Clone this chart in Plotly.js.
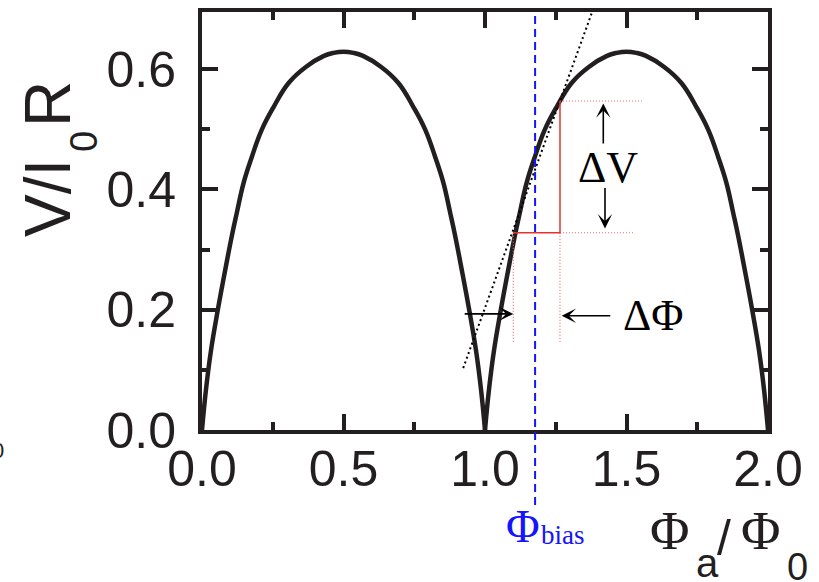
<!DOCTYPE html>
<html>
<head>
<meta charset="utf-8">
<script src="https://cdn.plot.ly/plotly-3.0.1.min.js"></script>
<style>
  html, body { margin: 0; padding: 0; background: #fff; }
  #chart { width: 819px; height: 582px; }
</style>
</head>
<body>
<div id="chart"></div>
<script>
// SQUID voltage vs. applied flux, two periods
const phiHump1 = [0, 0.014, 0.032, 0.056, 0.082, 0.106, 0.123, 0.147, 0.176, 0.211, 0.253, 0.306, 0.368, 0.431, 0.465, 0.5,
                  0.535, 0.569, 0.632, 0.694, 0.747, 0.789, 0.824, 0.853, 0.877, 0.894, 0.918, 0.944, 0.968, 0.986, 1.0];
const vHump1   = [0, 0.067, 0.133, 0.200, 0.266, 0.324, 0.361, 0.411, 0.454, 0.499, 0.537, 0.577, 0.604, 0.622, 0.627, 0.629,
                  0.627, 0.622, 0.604, 0.577, 0.537, 0.499, 0.454, 0.411, 0.361, 0.324, 0.266, 0.200, 0.133, 0.067, 0];
const phiHump2 = [1.0, 1.014, 1.032, 1.056, 1.082, 1.106, 1.123, 1.147, 1.176, 1.211, 1.253, 1.306, 1.368, 1.431, 1.465, 1.5,
                  1.535, 1.569, 1.632, 1.694, 1.747, 1.789, 1.824, 1.853, 1.877, 1.894, 1.918, 1.944, 1.968, 1.986, 2.0];
const vHump2   = [0, 0.067, 0.133, 0.200, 0.266, 0.324, 0.361, 0.411, 0.454, 0.499, 0.537, 0.577, 0.604, 0.622, 0.627, 0.629,
                  0.627, 0.622, 0.604, 0.577, 0.537, 0.499, 0.454, 0.411, 0.361, 0.324, 0.266, 0.200, 0.133, 0.067, 0];

// working point and the tangent through it
const phiBias = 1.177;
const tangentPhi = [0.923, 1.377];
const tangentV = [0.103, 0.693];

// flux step and the voltage step it produces
const dPhiLow = 1.100, dPhiHigh = 1.265;
const dVLow = 0.328, dVHigh = 0.547;
const guideEndLow = 1.523, guideEndHigh = 1.554;
const guideBottom = 0.144;
const dPhiArrowV = 0.193;

const xTicks = [0, 0.5, 1.0, 1.5, 2.0];
const xTickText = ['0.0', '0.5', '1.0', '1.5', '2.0'];
const yTicks = [0, 0.2, 0.4, 0.6];
const yTickText = ['0.0', '0.2', '0.4', '0.6'];

const INK = '#231f20';
const RED = '#e8332c';
const PINK = '#ee6a6a';
const BLUE = '#1414ff';
const SANS = 'Liberation Sans, Arial, Helvetica, sans-serif';
const SERIF = 'Liberation Serif, Times New Roman, serif';

// plot-area box in page pixels, used to place free-standing labels
const L = 202, R = 768, T = 12, B = 430;
const px = x => (x - L) / (R - L);
const py = y => (B - y) / (B - T);

const curveLine = { color: INK, width: 4.5, shape: 'spline', smoothing: 1.2 };
const guideLine = { color: PINK, width: 1.2, dash: '1px,2px' };

const traces = [
  { x: phiHump1, y: vHump1, mode: 'lines', line: curveLine },
  { x: phiHump2, y: vHump2, mode: 'lines', line: curveLine },
  { x: tangentPhi, y: tangentV, mode: 'lines', line: { color: '#000', width: 2, dash: '2px,3px' } },
  // dotted guides
  { x: [dPhiHigh, guideEndHigh], y: [dVHigh, dVHigh], mode: 'lines', line: guideLine },
  { x: [dPhiHigh, guideEndLow], y: [dVLow, dVLow], mode: 'lines', line: guideLine },
  { x: [dPhiLow, dPhiLow], y: [dVLow, guideBottom], mode: 'lines', line: guideLine },
  { x: [dPhiHigh, dPhiHigh], y: [dVLow, guideBottom], mode: 'lines', line: guideLine },
  // solid step
  { x: [dPhiLow, dPhiHigh, dPhiHigh], y: [dVLow, dVLow, dVHigh], mode: 'lines', line: { color: RED, width: 1.5 } }
];

function arrow(x, y, ax, ay) {
  return { x: x, y: y, ax: ax, ay: ay, xref: 'x', yref: 'y', axref: 'x', ayref: 'y',
           text: '', showarrow: true, arrowhead: 3, arrowsize: 1.5, arrowwidth: 1.6,
           arrowcolor: '#000', standoff: 0, startstandoff: 0 };
}

function label(text, x, y, size, family, color, angle) {
  return { text: text, x: px(x), y: py(y), xref: 'paper', yref: 'paper', showarrow: false,
           xanchor: 'center', yanchor: 'middle', textangle: angle || 0,
           font: { size: size, family: family, color: color || '#000' } };
}

const annotations = [
  arrow(1.418, 0.543, 1.418, 0.474),
  arrow(1.424, 0.335, 1.424, 0.405),
  arrow(dPhiLow, dPhiArrowV, 0.923, dPhiArrowV),
  arrow(1.271, dPhiArrowV - 0.003, 1.448, dPhiArrowV - 0.003),
  { text: 'ΔV', x: 1.433, y: 0.437, xref: 'x', yref: 'y', showarrow: false,
    font: { size: 44, family: SERIF, color: '#000' } },
  { text: 'ΔΦ', x: 1.592, y: 0.191, xref: 'x', yref: 'y', showarrow: false,
    font: { size: 44, family: SERIF, color: '#000' } },
  // bias label under the dashed line
  label('Φ', 523, 526, 46, SERIF, BLUE),
  label('bias', 563, 535, 27, SERIF, BLUE),
  // x-axis title
  label('Φ', 669, 531, 54, SERIF, INK),
  label('a', 707, 563, 40, SANS, INK),
  label('/', 724, 538, 50, SANS, INK),
  label('Φ', 760, 531, 54, SERIF, INK),
  label('0', 797, 567, 38, SANS, INK),
  // y-axis title
  label('V/I', 48, 198, 64, SANS, INK, -90),
  label('0', 84, 142, 38, SANS, INK, -90),
  label('R', 48, 104, 64, SANS, INK, -90),
  // stray digit at the left edge
  { text: '0', x: px(6), y: py(450), xref: 'paper', yref: 'paper', showarrow: false,
    xanchor: 'right', yanchor: 'middle', font: { size: 22, family: SANS, color: INK } }
];

const axisCommon = {
  showline: true, linewidth: 4, linecolor: INK, mirror: 'ticks',
  ticks: 'inside', ticklen: 16, tickwidth: 4, tickcolor: INK,
  showgrid: false, zeroline: false,
  tickfont: { family: SANS, size: 50, color: INK },
  fixedrange: true
};

const layout = {
  width: 819, height: 582,
  margin: { l: L, r: 819 - R, t: T, b: 582 - B },
  paper_bgcolor: '#fff', plot_bgcolor: '#fff',
  showlegend: false,
  xaxis: Object.assign({}, axisCommon, {
    range: [0, 2], tickvals: xTicks, ticktext: xTickText, ticklabelstandoff: -8,
    minor: { dtick: 0.25, tick0: 0, ticks: 'inside', ticklen: 8, tickwidth: 4, tickcolor: INK }
  }),
  yaxis: Object.assign({}, axisCommon, {
    range: [0, 0.695], tickvals: yTicks, ticktext: yTickText, ticklabelstandoff: 12,
    minor: { dtick: 0.1, tick0: 0, ticks: 'inside', ticklen: 8, tickwidth: 4, tickcolor: INK }
  }),
  shapes: [
    { type: 'line', xref: 'x', yref: 'paper', x0: phiBias, x1: phiBias, y0: py(505), y1: 1,
      line: { color: BLUE, width: 2, dash: '8px,5px' }, layer: 'above' }
  ],
  annotations: annotations
};

Plotly.newPlot('chart', traces, layout, { staticPlot: true, displayModeBar: false });
</script>
</body>
</html>
